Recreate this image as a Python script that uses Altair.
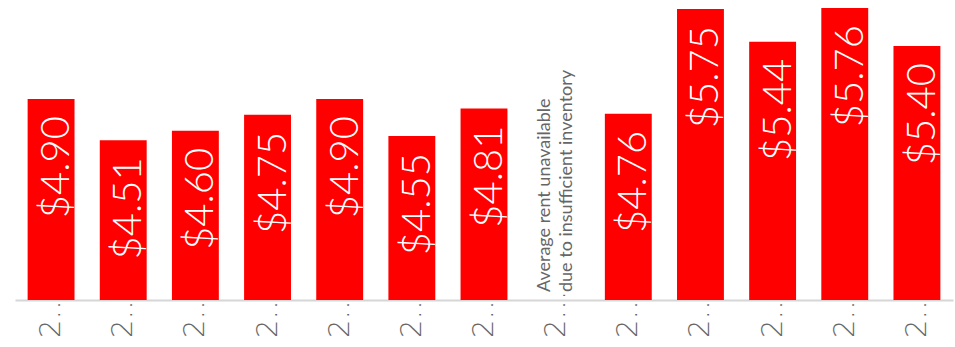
import altair as alt
import pandas as pd

categories = ["2010", "2011", "2012", "2013", "2014", "2015", "2016",
              "2017", "2018", "2019", "2020", "2021", "2022"]
rents = [4.90, 4.51, 4.60, 4.75, 4.90, 4.55, 4.81,
         None, 4.76, 5.75, 5.44, 5.76, 5.40]
value_labels = ["$4.90", "$4.51", "$4.60", "$4.75", "$4.90", "$4.55", "$4.81",
                "", "$4.76", "$5.75", "$5.44", "$5.76", "$5.40"]
note_category = ["2017"]
note_text = ["Average rent unavailable\ndue to insufficient inventory"]
note_base = [3.0]

df = pd.DataFrame({"cat": categories, "rent": rents, "label": value_labels})
bars_df = df.dropna()
note_df = pd.DataFrame({"cat": note_category, "text": note_text, "base": note_base})

FONT = "Source Sans Pro, Lato"

x = alt.X(
    "cat:N",
    sort=categories,
    scale=alt.Scale(domain=categories, paddingInner=0.35, paddingOuter=0.175),
    axis=alt.Axis(
        title=None,
        ticks=False,
        tickSize=0,
        labelAngle=-90,
        labelFontSize=29,
        labelFont="DejaVu Sans",
        labelFontWeight=200,
        labelColor="#666666",
        labelLimit=52,
        labelPadding=-10,
        domainColor="#d6d6d6",
        domainWidth=2,
        grid=False,
    ),
)
yscale = alt.Scale(domain=[3, 5.76], nice=False, zero=False)

bars = alt.Chart(bars_df).mark_bar(color="#ff0000").encode(
    x=x,
    y=alt.Y("rent:Q", scale=yscale, axis=None),
    y2=alt.datum(3),
)

values = alt.Chart(bars_df).mark_text(
    angle=270, align="right", baseline="middle", dx=-17, dy=6,
    color="white", fontSize=40, font=FONT, fontWeight=300,
).encode(
    x=x,
    y=alt.Y("rent:Q", scale=yscale),
    text="label:N",
)

note = alt.Chart(note_df).mark_text(
    angle=270, align="left", baseline="middle", dx=8, dy=-11,
    color="#666666", fontSize=18, font=FONT, lineBreak="\n", lineHeight=22,
).encode(
    x=x,
    y=alt.Y("base:Q", scale=yscale),
    text="text:N",
)

chart = alt.layer(bars, values, note).properties(
    width=938, height=292,
    autosize=alt.AutoSizeParams(type="none"),
    padding={"left": 15, "top": 8, "right": 2, "bottom": 47},
).configure_view(stroke=None)

chart.save("out.html", embed_options={"renderer": "svg", "actions": False})
